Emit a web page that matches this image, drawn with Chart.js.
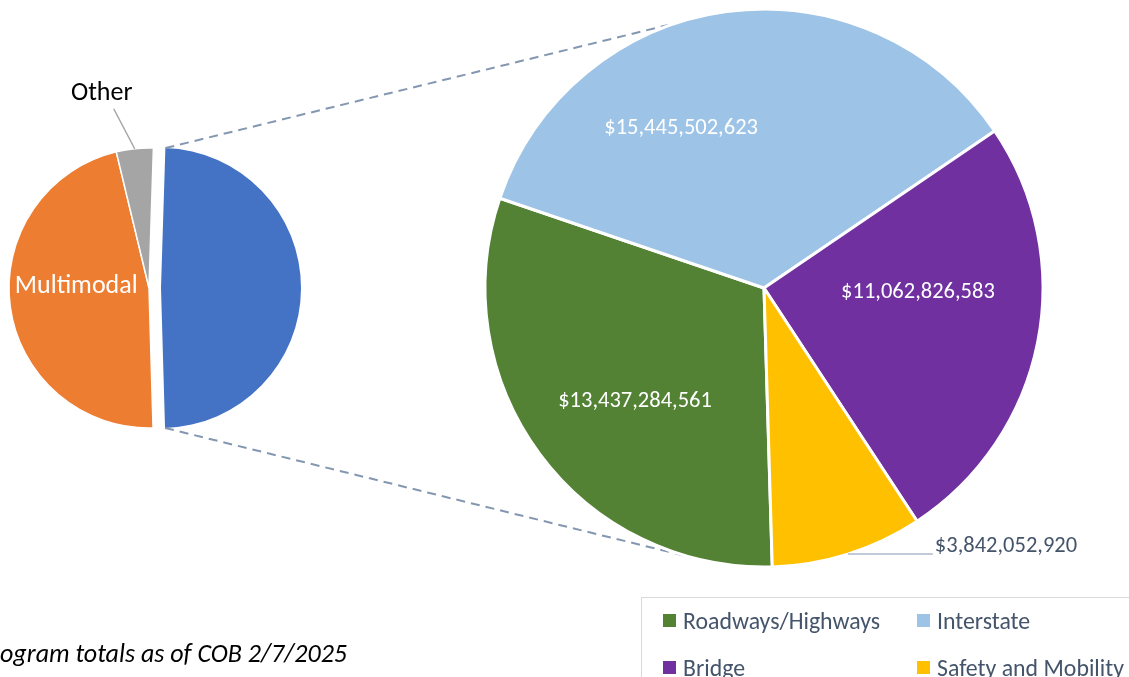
<!DOCTYPE html>
<html lang="en">
<head>
<meta charset="UTF-8">
<title>Program totals - pie of pie</title>
<script src="https://cdn.jsdelivr.net/npm/chart.js"></script>
<style>
  body { margin: 0; background: #fff; }
  #wrap { position: relative; width: 1129px; height: 677px; overflow: hidden; font-family: Carlito, Lato, sans-serif; }
  #wrap canvas { position: absolute; left: 0; top: 0; }
  #legend {
    position: absolute; left: 641px; top: 597px; width: 540px; height: 140px;
    border: 1px solid #d9d9d9; box-sizing: border-box;
    display: grid; grid-template-columns: 254px auto; grid-auto-rows: 47px;
    padding: 8px 0 0 21px;
  }
  .item { display: flex; align-items: center; height: 28px; font-size: 23.8px; color: #44546a; white-space: nowrap; }
  .item i { width: 13px; height: 13px; display: inline-block; margin-right: 7px; flex: none; }
  #note { position: absolute; right: 782px; top: 638px; font-style: italic; font-size: 26px; line-height: 30px; color: #000; white-space: nowrap; }
</style>
</head>
<body>
<div id="wrap">
  <canvas id="smallRest" width="1129" height="677"></canvas>
  <canvas id="smallSplit" width="1129" height="677"></canvas>
  <canvas id="big" width="1129" height="677"></canvas>
  <div id="legend"></div>
  <div id="note">*Program totals as of COB 2/7/2025</div>
</div>

<script>
  // --- data ---
  const bigLabels = ['Roadways/Highways', 'Interstate', 'Bridge', 'Safety and Mobility'];
  const bigValues = [13437284561, 15445502623, 11062826583, 3842052920];
  const bigColors = ['#548235', '#9dc3e6', '#7030a0', '#ffc000'];

  // first slice is the one broken out into the big pie
  const smallLabels = ['Highway programs', 'Multimodal', 'Other'];
  const smallValues = [43787666687, 41700000000, 3800000000];
  const smallColors = ['#4472c4', '#ed7d31', '#a5a5a5'];

  const W = 1129, H = 677;
  const CLEAR = 'rgba(0,0,0,0)';
  const FONT = 'Carlito, Lato, sans-serif';
  Chart.defaults.font.family = FONT;

  // padding that puts the chart area centre on (cx, cy)
  function centerAt(cx, cy) {
    return {
      left: Math.max(0, 2 * cx - W), right: Math.max(0, W - 2 * cx),
      top: Math.max(0, 2 * cy - H), bottom: Math.max(0, H - 2 * cy)
    };
  }

  const money = v => '$' + v.toLocaleString('en-US');
  const rad = d => d * Math.PI / 180;

  // label placement: angle shift from slice middle (deg) and radius fraction,
  // or an outside label with a leader line
  function drawLabels(chart, place, texts) {
    const ctx = chart.ctx;
    const arcs = chart.getDatasetMeta(0).data;
    ctx.save();
    place.forEach((p, i) => {
      if (!p) return;
      const a = arcs[i];
      const mid = (a.startAngle + a.endAngle) / 2;
      ctx.font = p.font;
      ctx.textBaseline = 'middle';
      if (p.outside) {
        const ex = a.x + Math.cos(mid) * a.outerRadius;
        const ey = a.y + Math.sin(mid) * a.outerRadius;
        ctx.strokeStyle = p.line; ctx.lineWidth = 1.5;
        ctx.beginPath(); ctx.moveTo(ex, ey); ctx.lineTo(ex + p.lx, ey + p.ly); ctx.stroke();
        ctx.fillStyle = p.color;
        ctx.textAlign = p.align;
        ctx.fillText(texts[i], ex + p.tx, ey + p.ty);
      } else {
        const ang = mid + rad(p.da);
        const r = a.outerRadius * p.rf;
        ctx.fillStyle = '#fff';
        ctx.textAlign = 'center';
        ctx.fillText(texts[i], a.x + Math.cos(ang) * r, a.y + Math.sin(ang) * r);
      }
    });
    ctx.restore();
  }

  const baseOpts = (pad, radius, rotation) => ({
    responsive: false,
    animation: false,
    events: [],
    radius: radius,
    rotation: rotation,
    layout: { padding: pad },
    plugins: { legend: { display: false }, tooltip: { enabled: false } }
  });

  // small pie, broken-out slice moved right
  const smallSplit = new Chart(document.getElementById('smallSplit'), {
    type: 'pie',
    data: {
      labels: smallLabels,
      datasets: [{
        data: smallValues,
        backgroundColor: [smallColors[0], CLEAR, CLEAR],
        borderWidth: 0
      }]
    },
    options: baseOpts(centerAt(161, 288), 140, 1.8)
  });

  // small pie, remaining slices
  const smallRest = new Chart(document.getElementById('smallRest'), {
    type: 'pie',
    data: {
      labels: smallLabels,
      datasets: [{
        data: smallValues,
        backgroundColor: [CLEAR, smallColors[1], smallColors[2]],
        borderColor: [CLEAR, '#fff', '#fff'],
        borderWidth: 1.5
      }]
    },
    options: baseOpts(centerAt(149, 288), 140, 1.8),
    plugins: [{
      id: 'smallLabels',
      afterDatasetsDraw(chart) {
        drawLabels(chart, [
          null,
          { da: 9, rf: 0.52, font: '26px ' + FONT },
          { outside: true, lx: -21, ly: -40, tx: -33, ty: -55, align: 'center',
            color: '#000', line: '#a6a6a6', font: '26px ' + FONT }
        ], smallLabels);
      }
    }]
  });

  const pieOfPie = {
    id: 'pieOfPie',
    beforeDatasetsDraw(chart) {
      // dashed connectors from the broken-out slice to the big pie
      const ctx = chart.ctx;
      const s = smallSplit.getDatasetMeta(0).data[0];
      const b = chart.getDatasetMeta(0).data[0];
      const ends = [[s.startAngle, -108], [s.endAngle, 105]];
      ctx.save();
      ctx.strokeStyle = '#8497b0';
      ctx.lineWidth = 2;
      ctx.setLineDash([9, 6]);
      ends.forEach(([a, deg]) => {
        ctx.beginPath();
        ctx.moveTo(s.x + Math.cos(a) * s.outerRadius, s.y + Math.sin(a) * s.outerRadius);
        ctx.lineTo(b.x + Math.cos(rad(deg)) * b.outerRadius, b.y + Math.sin(rad(deg)) * b.outerRadius);
        ctx.stroke();
      });
      ctx.restore();
    },
    afterDatasetsDraw(chart) {
      const f = '22.5px ' + FONT;
      drawLabels(chart, [
        { da: -4.8, rf: 0.615, font: f },
        { da: -19.7, rf: 0.645, font: f },
        { da: -9.75, rf: 0.552, font: f },
        { outside: true, lx: 85, ly: 0, tx: 87, ty: -8, align: 'left', color: '#44546a', line: '#adb9ca', font: f }
      ], bigValues.map(money));
    }
  };

  new Chart(document.getElementById('big'), {
    type: 'pie',
    data: {
      labels: bigLabels,
      datasets: [{
        data: bigValues,
        backgroundColor: bigColors,
        borderColor: '#fff',
        borderWidth: 3
      }]
    },
    options: baseOpts(centerAt(764, 288), 279, 178.3),
    plugins: [pieOfPie]
  });

  // legend (cropped box at bottom right)
  document.getElementById('legend').innerHTML = bigLabels.map((l, i) =>
    `<div class="item"><i style="background:${bigColors[i]}"></i>${l}</div>`).join('');
</script>
</body>
</html>
